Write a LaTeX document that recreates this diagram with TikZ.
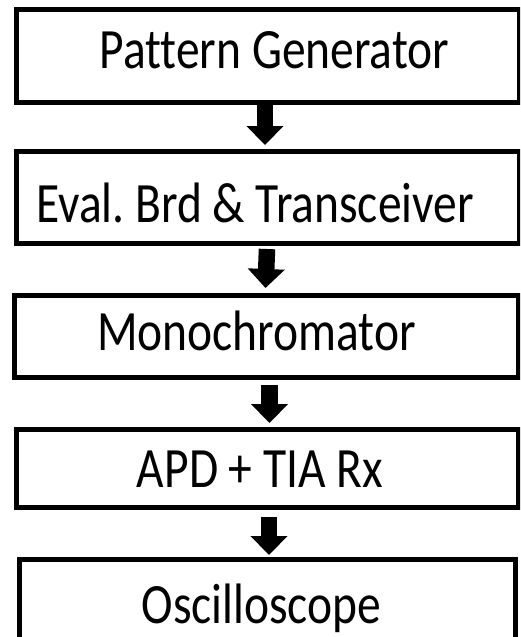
\documentclass[tikz,border=0pt]{standalone}
\usepackage{fontspec}
\setmainfont{Carlito}[Ligatures=CommonOff]
\usetikzlibrary{arrows.meta}
\frenchspacing
\tikzset{
  box/.style={draw=black, line width=5pt, fill=white, inner sep=0pt, outer sep=2.5pt},
  lbl/.style={anchor=base, inner sep=0pt, font=\fontsize{47.5}{50}\selectfont},
  flow/.style={line width=16.5pt, -{Triangle[width=36pt,length=19pt]}},
}
\newcommand{\tall}[1]{\scalebox{1}[1.2]{#1}}
\begin{document}
\begin{tikzpicture}[x=1pt,y=-1pt]
\useasboundingbox (0,0) rectangle (520,637);
\clip (0,0) rectangle (520,637);
\fill[white] (0,0) rectangle (520,637);
% boxes
\node[box, minimum width=503pt, minimum height=93pt] (b1) at (267.5,56) {};
\node[box, minimum width=503pt, minimum height=92pt] (b2) at (267.5,197) {};
\node[box, minimum width=504pt, minimum height=82pt] (b3) at (266,336.5) {};
\node[box, minimum width=502pt, minimum height=78pt] (b4) at (267,468.5) {};
\node[box, minimum width=496.5pt, minimum height=120.5pt] (b5) at (267.25,619.75) {};
% labels
\node[lbl] (t1) at (274.5,68) {\tall{Pattern Generator}};
\node[lbl] (t2) at (255,222) {\tall{Eval.\ Brd \& Transceiver}};
\node[lbl] (t3) at (256.5,350) {\tall{Monochromator}};
\node[lbl] (t4) at (260,487) {\tall{APD + TIA Rx}};
\node[lbl] (t5) at (261.5,623) {\tall{Oscilloscope}};
% arrows
\draw[flow] ([xshift=-2.5pt]b1.south) -- ([xshift=-2.5pt,yshift=3.5pt]b2.north);
\draw[flow] ([xshift=-0.5pt,yshift=-3.5pt]b2.south) -- ([xshift=-0.5pt,yshift=5pt]b3.north);
\draw[flow] ([xshift=3.5pt,yshift=-5pt]b3.south) -- ([xshift=2.5pt,yshift=4pt]b4.north);
\draw[flow] ([xshift=2pt,yshift=-7pt]b4.south) -- ([xshift=1.75pt,yshift=2pt]b5.north);
\end{tikzpicture}
\end{document}
